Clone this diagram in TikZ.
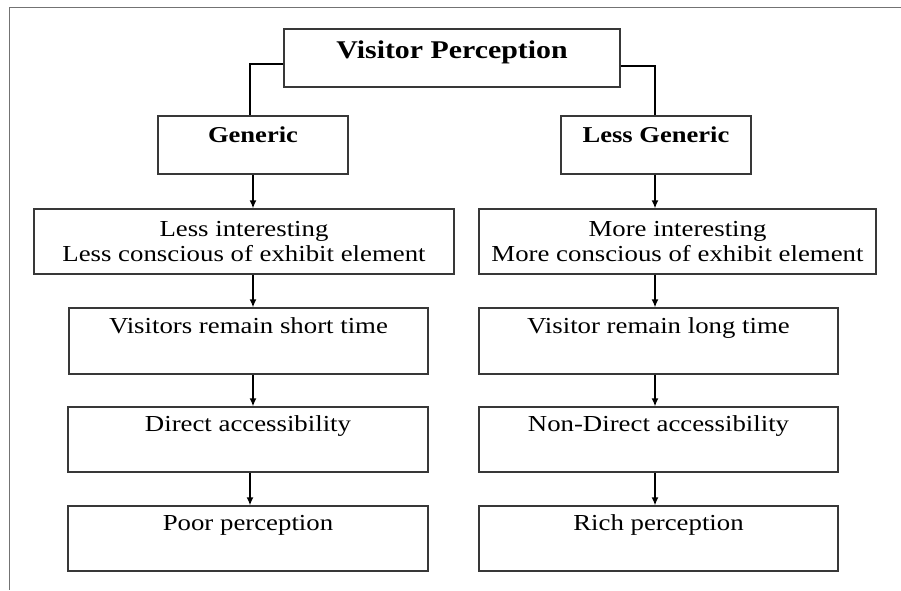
\documentclass[tikz,border=0pt]{standalone}
\usepackage{fontspec}
\setmainfont[FakeStretch=1.17]{Liberation Serif}
\usetikzlibrary{arrows.meta}
\begin{document}
\begin{tikzpicture}[x=1pt,y=-1pt,
  box/.style={draw=black!78, line width=1.3pt, rectangle, inner sep=0pt,
    align=center, font=\fontsize{22.9}{25}\selectfont},
  onebox/.style={box, text height=16pt, text depth=32pt},
  headbox/.style={box, font=\bfseries\fontsize{22.7}{26}\selectfont,
    text height=16pt, text depth=22pt},
  flow/.style={line width=1.5pt, -{Latex[length=8pt,width=7pt]}},
  link/.style={line width=1.5pt},
  frame/.style={draw=black!55, line width=1pt}]
\useasboundingbox (0,0) rectangle (901,590);

% partial outer frame
\coordinate (ftl) at (9,7);
\coordinate (ftr) at (901,7);
\coordinate (fbl) at (9,590);
\draw[frame] (ftr) -- (ftl) -- (fbl);

% root
\node[box, font=\bfseries\fontsize{25.5}{29}\selectfont, text height=17pt, text depth=17pt,
      minimum width=336pt, minimum height=58pt] (vp) at (452,58) {Visitor Perception};

% branch heads
\node[headbox, minimum width=190pt, minimum height=58pt] (gen) at (253,145) {Generic};
\node[headbox, minimum width=190pt, minimum height=58pt] (lgen) at (656,145) {Less Generic};

% left column
\node[box, minimum width=420pt, minimum height=65pt] (l2) at (244,241.5)
  {Less interesting\\Less conscious of exhibit element};
\node[onebox, minimum width=359pt, minimum height=66pt] (l3) at (248.5,341)
  {Visitors remain short time};
\node[onebox, minimum width=360pt, minimum height=65pt] (l4) at (248,439.5)
  {Direct accessibility};
\node[onebox, minimum width=360pt, minimum height=65pt] (l5) at (248,538.5)
  {Poor perception};

% right column
\node[box, minimum width=397pt, minimum height=65pt] (r2) at (677.5,241.5)
  {More interesting\\More conscious of exhibit element};
\node[onebox, minimum width=359pt, minimum height=66pt] (r3) at (658.5,341)
  {Visitor remain long time};
\node[onebox, minimum width=359pt, minimum height=65pt] (r4) at (658.5,439.5)
  {Non-Direct accessibility};
\node[onebox, minimum width=359pt, minimum height=65pt] (r5) at (658.5,538.5)
  {Rich perception};

% root to branch heads
\draw[link] ([yshift=-6pt]vp.west) -| ([xshift=-3pt]gen.north);
\draw[link] ([yshift=-8pt]vp.east) -| ([xshift=-1pt]lgen.north);

% left chain
\draw[flow] (gen.south) -- (gen.south |- l2.north);
\draw[flow] (gen.south |- l2.south) -- (gen.south |- l3.north);
\draw[flow] (gen.south |- l3.south) -- (gen.south |- l4.north);
\draw[flow] ([xshift=-3pt]gen.south |- l4.south) -- ([xshift=-3pt]gen.south |- l5.north);

% right chain
\draw[flow] ([xshift=-1pt]lgen.south) -- ([xshift=-1pt]lgen.south |- r2.north);
\draw[flow] ([xshift=-1pt]lgen.south |- r2.south) -- ([xshift=-1pt]lgen.south |- r3.north);
\draw[flow] ([xshift=-1pt]lgen.south |- r3.south) -- ([xshift=-1pt]lgen.south |- r4.north);
\draw[flow] ([xshift=-1pt]lgen.south |- r4.south) -- ([xshift=-1pt]lgen.south |- r5.north);
\end{tikzpicture}
\end{document}
